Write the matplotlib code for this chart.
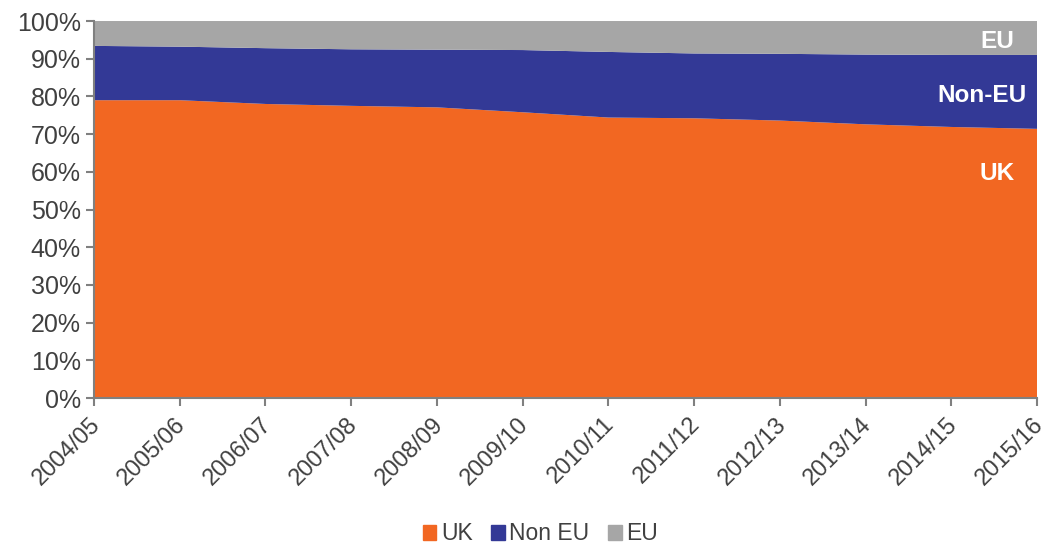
import matplotlib
matplotlib.use("Agg")
import matplotlib.pyplot as plt
import matplotlib.patches as mpatches
import matplotlib.transforms as mtransforms
import numpy as np

plt.rcParams['font.family'] = ['Liberation Sans', 'DejaVu Sans']

years = ['2004/05', '2005/06', '2006/07', '2007/08', '2008/09', '2009/10',
         '2010/11', '2011/12', '2012/13', '2013/14', '2014/15', '2015/16']
uk = [79.0, 79.0, 78.0, 77.5, 77.1, 75.8, 74.4, 74.2, 73.6, 72.6, 71.9, 71.4]
non_eu = [14.4, 14.2, 14.8, 15.0, 15.3, 16.5, 17.4, 17.2, 17.7, 18.5, 19.1, 19.6]
eu = [6.6, 6.8, 7.2, 7.5, 7.6, 7.7, 8.2, 8.6, 8.7, 8.9, 9.0, 9.0]

c_uk = '#F26722'
c_non = '#333996'
c_eu = '#A6A6A6'
grey = '#808080'

fig = plt.figure(figsize=(10.49, 5.46), dpi=100)
ax = fig.add_axes([0.0896, 0.271, 0.899, 0.6905])

x = np.arange(len(years))
ax.stackplot(x, uk, non_eu, eu, colors=[c_uk, c_non, c_eu], linewidth=0)

ax.set_xlim(0, len(years) - 1)
ax.set_ylim(0, 100)
ax.set_yticks(range(0, 101, 10))
ax.set_yticklabels([f'{v}%' for v in range(0, 101, 10)])
ax.set_xticks(x)
ax.set_xticklabels(years, rotation=45, ha='right', rotation_mode='anchor')

for s in ['top', 'right']:
    ax.spines[s].set_visible(False)
for s in ['left', 'bottom']:
    ax.spines[s].set_color(grey)
    ax.spines[s].set_linewidth(1.5)
ax.tick_params(axis='both', colors=grey, width=1.5, length=6, labelsize=18,
               labelcolor='#404040')
ax.tick_params(axis='x', pad=5, labelsize=17)

# nudge rotated year labels a little to the left so the last one fits
shift = mtransforms.ScaledTranslation(-5 / 100, 0, fig.dpi_scale_trans)
for lbl in ax.get_xticklabels():
    lbl.set_transform(lbl.get_transform() + shift)

# labels on areas
ax.text(0.958, 0.945, 'EU', transform=ax.transAxes, color='white',
        fontsize=17.5, fontweight='bold', ha='center', va='center')
ax.text(0.942, 0.802, 'Non-EU', transform=ax.transAxes, color='white',
        fontsize=17.5, fontweight='bold', ha='center', va='center')
ax.text(0.958, 0.595, 'UK', transform=ax.transAxes, color='white',
        fontsize=17.5, fontweight='bold', ha='center', va='center')

handles = [mpatches.Patch(color=c_uk, label='UK'),
           mpatches.Patch(color=c_non, label='Non EU'),
           mpatches.Patch(color=c_eu, label='EU')]
fig.legend(handles=handles, loc='center', bbox_to_anchor=(0.515, 0.022), ncol=3,
           frameon=False, fontsize=16.5, handlelength=0.6, handleheight=0.6,
           handletextpad=0.2, columnspacing=0.8, labelcolor='#404040')

fig.savefig('out.png', dpi=100)
